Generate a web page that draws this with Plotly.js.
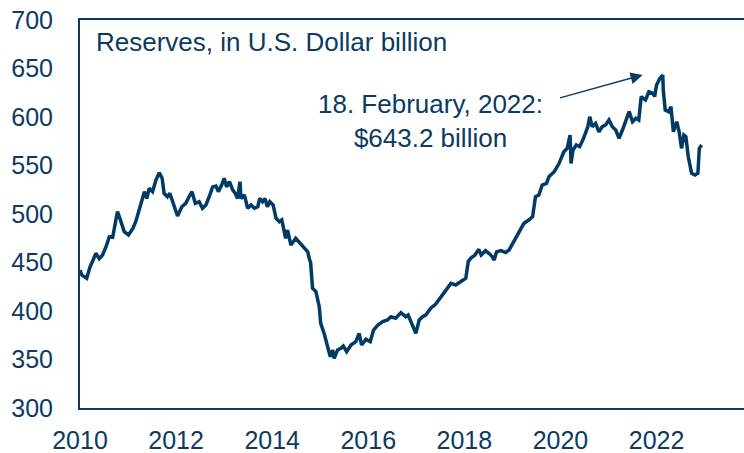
<!DOCTYPE html>
<html>
<head>
<meta charset="utf-8">
<script src="https://cdn.plot.ly/plotly-3.0.1.min.js"></script>
<style>html,body{margin:0;padding:0;background:#fff;}#chart{width:744px;height:453px;}</style>
</head>
<body>
<div id="chart"></div>
<script>
// Decimal years and reserves (USD billion)
const years = [
2010.00,2010.04,2010.14,2010.21,2010.26,2010.33,2010.40,2010.47,2010.54,2010.61,2010.68,2010.75,2010.78,2010.83,2010.92,
2011.01,2011.10,2011.16,2011.23,2011.30,2011.34,2011.39,2011.44,2011.51,2011.58,2011.65,2011.71,2011.75,2011.82,2011.87,2011.94,
2012.03,2012.12,2012.20,2012.27,2012.33,2012.40,2012.48,2012.55,2012.62,2012.69,2012.76,2012.83,2012.88,2012.95,
2013.00,2013.05,2013.11,2013.18,2013.23,2013.28,2013.33,2013.35,2013.42,2013.49,2013.56,2013.63,2013.70,2013.74,2013.80,2013.85,2013.90,2013.95,
2014.02,2014.08,2014.15,2014.20,2014.25,2014.28,2014.32,2014.39,2014.49,2014.55,2014.63,2014.74,2014.77,2014.80,2014.84,2014.91,2014.98,
2015.01,2015.08,2015.15,2015.21,2015.26,2015.29,2015.36,2015.43,2015.48,2015.55,2015.64,2015.74,2015.81,2015.86,2015.95,
2016.04,2016.11,2016.20,2016.30,2016.40,2016.47,2016.57,2016.68,2016.78,2016.83,2016.90,2016.99,
2017.06,2017.13,2017.20,2017.30,2017.40,2017.51,2017.58,2017.65,2017.72,2017.82,2017.92,
2018.03,2018.08,2018.13,2018.22,2018.30,2018.35,2018.44,2018.51,2018.57,2018.62,2018.67,2018.76,2018.86,2018.93,
2019.03,2019.14,2019.24,2019.34,2019.42,2019.48,2019.55,2019.62,2019.71,2019.76,2019.87,2019.97,
2020.07,2020.14,2020.20,2020.22,2020.26,2020.33,2020.40,2020.48,2020.57,2020.61,2020.66,2020.73,2020.80,2020.87,2020.94,
2021.01,2021.08,2021.15,2021.22,2021.29,2021.36,2021.43,2021.50,2021.57,2021.63,2021.68,2021.77,2021.84,2021.93,2021.96,
2022.00,2022.07,2022.13,2022.14,2022.18,2022.25,2022.30,2022.35,2022.42,2022.47,2022.52,2022.57,2022.61,2022.66,2022.73,2022.80,2022.86,2022.89,2022.94
];
const reserves = [
442,437,433.7,445.7,451,459.5,454,457.7,466,476.6,476,497.2,502.4,495.6,481.8,
478.4,485.2,492,504,517.8,523,516,526.5,523,535,542.6,536.8,521.3,517.8,521.3,511,
498,507.5,511,517.8,523,511,512.7,505.8,509.3,517.8,528,528.9,523,530,
536.8,528,533.3,524.7,521.3,516,533.3,516,519.6,505.9,509.3,505.9,507.5,516,512.7,516,507.5,512.7,
509.3,495.6,492,493.8,481.8,474.9,483.5,468,474.9,471.5,467,461,454.3,450,423.4,420,404.4,
387.3,377,365,352.9,359.8,351.2,359.8,361.5,363.9,358,365,368.4,377,365,370.8,
368.4,380.4,385.6,389,390.7,394.1,392.5,398.3,394.1,395.9,387.3,377,
390.7,394.1,396,402.8,407,414.8,419.9,425,428.5,426.8,430.2,
433.7,450.9,454.3,457.7,463.6,457.7,462.2,459.5,456.7,452.6,461,462.2,460.2,462.9,
471.5,480,490.4,493.8,497.2,517.8,519.6,529.9,531.6,538.5,543.6,552,
564.2,567.7,581.4,552,566,571.1,569.4,578,590,600.3,590,593.5,584.8,590,591.8,
596.9,590,586.6,578,586.6,595.1,605.5,595.1,598.7,596.9,620.9,617.5,626,624.4,621,
633,639.9,643.2,627.8,607.2,605.5,610.6,584.8,595.1,584.8,567.7,581.4,579.8,559,542,540.2,542,567.7,571.1
];
const xTicks = [2010,2012,2014,2016,2018,2020,2022];
const yTicks = [300,350,400,450,500,550,600,650,700];

const navy = '#0c3a63';
const fontFam = '"Liberation Sans", Arial, sans-serif';

const trace = {
  x: years, y: reserves, type: 'scatter', mode: 'lines',
  line: {color: '#003a66', width: 3.5}, hoverinfo: 'skip'
};

const layout = {
  width: 744, height: 453,
  margin: {l: 80, r: 0, t: 20, b: 45},
  paper_bgcolor: '#fff', plot_bgcolor: '#fff',
  showlegend: false,
  font: {family: fontFam, color: navy, size: 25},
  xaxis: {
    range: [2010, 2023.82], tickvals: xTicks, ticktext: xTicks.map(String),
    showgrid: false, zeroline: false, showline: true, mirror: true,
    linecolor: navy, linewidth: 2, ticks: '', ticklabelstandoff: 9,
    tickfont: {size: 25, color: navy, family: fontFam}
  },
  yaxis: {
    range: [300, 700], tickvals: yTicks, ticktext: yTicks.map(String),
    showgrid: false, zeroline: false, showline: true,
    linecolor: navy, linewidth: 2, ticks: '', ticklabelstandoff: 20,
    tickfont: {size: 25, color: navy, family: fontFam}
  },
  annotations: [
    {xref: 'paper', yref: 'paper', x: 0.021, y: 0.944, xanchor: 'left', yanchor: 'middle',
     text: 'Reserves, in U.S. Dollar billion', showarrow: false,
     font: {size: 26, color: navy, family: fontFam}},
    {xref: 'x', yref: 'y', x: 2017.29, y: 596, xanchor: 'center', yanchor: 'middle',
     text: '18. February, 2022:<br>$643.2 billion', showarrow: false, align: 'center',
     font: {size: 26, color: navy, family: fontFam}},
    {xref: 'x', yref: 'y', axref: 'x', ayref: 'y',
     x: 2021.71, y: 643.3, ax: 2019.96, ay: 619.3, text: '',
     showarrow: true, arrowhead: 2, arrowsize: 1.6, arrowwidth: 1.5, arrowcolor: navy}
  ]
};

Plotly.newPlot('chart', [trace], layout, {displayModeBar: false, staticPlot: true});
</script>
</body>
</html>
